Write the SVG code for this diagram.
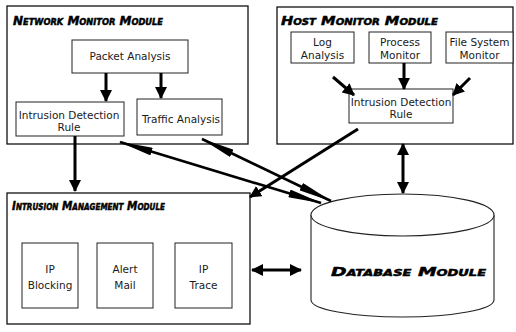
<svg xmlns="http://www.w3.org/2000/svg" width="516" height="332" viewBox="0 0 516 332">
  <defs>
    <style>
      .module { fill: #fff; stroke: #111; stroke-width: 1.3; }
      .box { fill: #fff; stroke: #222; stroke-width: 1; }
      .label { font-family: "DejaVu Sans", "Liberation Sans", sans-serif; font-size: 10.5px; fill: #1a1a1a; text-anchor: middle; }
      .title { font-family: "DejaVu Sans", "Liberation Sans", sans-serif; font-size: 13px; font-weight: bold; font-style: italic; font-variant: small-caps; fill: #000; stroke: #000; stroke-width: 0.5; }
      .arrow { stroke: #000; stroke-width: 3; fill: none; }
      .slim { stroke: #000; stroke-width: 2.6; fill: none; }
    </style>
    <!-- short block arrowhead -->
    <marker id="head" markerUnits="userSpaceOnUse" viewBox="0 0 12 12" markerWidth="12" markerHeight="12" refX="11" refY="6" orient="auto-start-reverse">
      <path d="M0,0 L12,6 L0,12 z" fill="#000"/>
    </marker>
    <!-- long slender arrowhead for the database links -->
    <marker id="long" markerUnits="userSpaceOnUse" viewBox="0 0 34 8" markerWidth="34" markerHeight="8" refX="33" refY="4" orient="auto-start-reverse">
      <path d="M0,0 L34,4 L0,8 z" fill="#000"/>
    </marker>
  </defs>

  <!-- Network monitor module -->
  <g id="network-monitor">
    <rect class="module" x="7" y="6" width="241" height="138"/>
    <text class="title" x="13" y="25" textLength="150" lengthAdjust="spacingAndGlyphs">Network Monitor Module</text>
  </g>
  <g id="packet-analysis">
    <rect class="box" x="72" y="40" width="116" height="33"/>
    <text class="label" x="130" y="60">Packet Analysis</text>
  </g>
  <g id="nm-intrusion-rule">
    <rect class="box" x="16" y="102" width="108" height="34"/>
    <text class="label" x="69" y="119">Intrusion Detection</text>
    <text class="label" x="69" y="131">Rule</text>
  </g>
  <g id="traffic-analysis">
    <rect class="box" x="137" y="99" width="85" height="36"/>
    <text class="label" x="181" y="123">Traffic Analysis</text>
  </g>

  <!-- Host monitor module -->
  <g id="host-monitor">
    <rect class="module" x="277" y="7" width="236" height="137"/>
    <text class="title" x="281" y="25" textLength="157" lengthAdjust="spacingAndGlyphs">Host Monitor Module</text>
  </g>
  <g id="log-analysis">
    <rect class="box" x="291" y="32" width="63" height="31"/>
    <text class="label" x="322.5" y="46">Log</text>
    <text class="label" x="322.5" y="59">Analysis</text>
  </g>
  <g id="process-monitor">
    <rect class="box" x="369" y="32" width="62" height="31"/>
    <text class="label" x="400" y="46">Process</text>
    <text class="label" x="400" y="59">Monitor</text>
  </g>
  <g id="file-system-monitor">
    <rect class="box" x="446" y="32" width="67" height="31"/>
    <text class="label" x="479.5" y="46">File System</text>
    <text class="label" x="479.5" y="59">Monitor</text>
  </g>
  <g id="hm-intrusion-rule">
    <rect class="box" x="349" y="89" width="104" height="34"/>
    <text class="label" x="401" y="106">Intrusion Detection</text>
    <text class="label" x="401" y="118">Rule</text>
  </g>

  <!-- Intrusion management module -->
  <g id="intrusion-management">
    <rect class="module" x="7" y="193" width="243" height="131"/>
    <text class="title" x="12" y="210" textLength="153" lengthAdjust="spacingAndGlyphs">Intrusion Management Module</text>
  </g>
  <g id="ip-blocking">
    <rect class="box" x="22" y="243" width="56" height="65"/>
    <text class="label" x="50" y="273">IP</text>
    <text class="label" x="50" y="289">Blocking</text>
  </g>
  <g id="alert-mail">
    <rect class="box" x="97" y="243" width="56" height="65"/>
    <text class="label" x="125" y="273">Alert</text>
    <text class="label" x="125" y="289">Mail</text>
  </g>
  <g id="ip-trace">
    <rect class="box" x="175" y="243" width="57" height="65"/>
    <text class="label" x="203.5" y="273">IP</text>
    <text class="label" x="203.5" y="289">Trace</text>
  </g>

  <!-- Database module -->
  <g id="database">
    <path d="M311,215 L311,300 A91.5,17 0 0 0 494,300 L494,215" fill="#fff" stroke="#222" stroke-width="1.1"/>
    <ellipse cx="402.5" cy="215" rx="91.5" ry="21" fill="#fff" stroke="#222" stroke-width="1.1"/>
    <text class="title" x="331" y="276" font-size="14" textLength="155" lengthAdjust="spacingAndGlyphs">Database Module</text>
  </g>

  <!-- Connectors -->
  <g id="connectors">
    <line class="arrow" x1="106" y1="73" x2="106" y2="101" marker-end="url(#head)"/>
    <line class="arrow" x1="161" y1="73" x2="161" y2="98" marker-end="url(#head)"/>
    <line class="arrow" x1="75" y1="136" x2="75" y2="191" marker-end="url(#head)"/>

    <line class="arrow" x1="333" y1="77" x2="354" y2="95" marker-end="url(#head)"/>
    <line class="arrow" x1="404" y1="63" x2="404" y2="89" marker-end="url(#head)"/>
    <line class="arrow" x1="470" y1="78" x2="453" y2="95" marker-end="url(#head)"/>

    <line class="arrow" x1="403" y1="144" x2="403" y2="193" marker-start="url(#head)" marker-end="url(#head)"/>
    <line class="arrow" x1="252" y1="270" x2="301" y2="270" marker-start="url(#head)" marker-end="url(#head)"/>

    <line class="slim" x1="120" y1="142" x2="321" y2="203" marker-start="url(#long)" marker-end="url(#long)"/>
    <line class="slim" x1="202" y1="139" x2="331" y2="201" marker-start="url(#long)" marker-end="url(#long)"/>
    <line class="arrow" x1="358" y1="129" x2="250" y2="197" marker-end="url(#head)"/>
  </g>
</svg>
